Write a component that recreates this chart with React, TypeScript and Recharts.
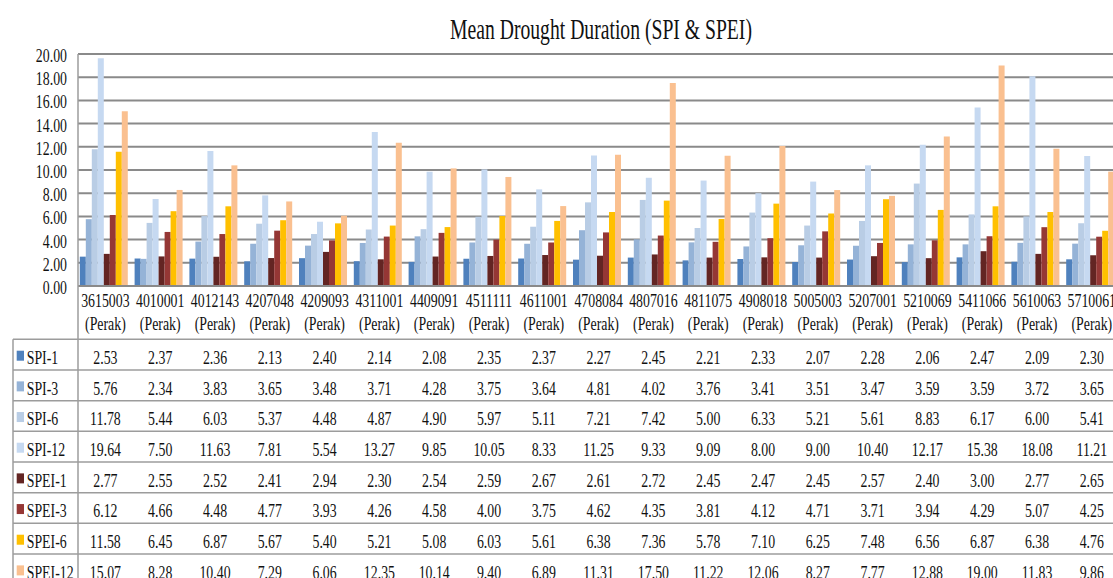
import React from "react";
import { BarChart, Bar, XAxis, YAxis, CartesianGrid } from "recharts";

// Station codes (all in Perak)
const stations = [
  "3615003", "4010001", "4012143", "4207048", "4209093", "4311001", "4409091",
  "4511111", "4611001", "4708084", "4807016", "4811075", "4908018", "5005003",
  "5207001", "5210069", "5411066", "5610063", "5710061",
];
const stateLabel = "(Perak)";

// Mean drought duration per index
const spi1 = [2.53, 2.37, 2.36, 2.13, 2.40, 2.14, 2.08, 2.35, 2.37, 2.27, 2.45, 2.21, 2.33, 2.07, 2.28, 2.06, 2.47, 2.09, 2.30];
const spi3 = [5.76, 2.34, 3.83, 3.65, 3.48, 3.71, 4.28, 3.75, 3.64, 4.81, 4.02, 3.76, 3.41, 3.51, 3.47, 3.59, 3.59, 3.72, 3.65];
const spi6 = [11.78, 5.44, 6.03, 5.37, 4.48, 4.87, 4.90, 5.97, 5.11, 7.21, 7.42, 5.00, 6.33, 5.21, 5.61, 8.83, 6.17, 6.00, 5.41];
const spi12 = [19.64, 7.50, 11.63, 7.81, 5.54, 13.27, 9.85, 10.05, 8.33, 11.25, 9.33, 9.09, 8.00, 9.00, 10.40, 12.17, 15.38, 18.08, 11.21];
const spei1 = [2.77, 2.55, 2.52, 2.41, 2.94, 2.30, 2.54, 2.59, 2.67, 2.61, 2.72, 2.45, 2.47, 2.45, 2.57, 2.40, 3.00, 2.77, 2.65];
const spei3 = [6.12, 4.66, 4.48, 4.77, 3.93, 4.26, 4.58, 4.00, 3.75, 4.62, 4.35, 3.81, 4.12, 4.71, 3.71, 3.94, 4.29, 5.07, 4.25];
const spei6 = [11.58, 6.45, 6.87, 5.67, 5.40, 5.21, 5.08, 6.03, 5.61, 6.38, 7.36, 5.78, 7.10, 6.25, 7.48, 6.56, 6.87, 6.38, 4.76];
const spei12 = [15.07, 8.28, 10.40, 7.29, 6.06, 12.35, 10.14, 9.40, 6.89, 11.31, 17.50, 11.22, 12.06, 8.27, 7.77, 12.88, 19.00, 11.83, 9.86];

const yTicks = [0, 2, 4, 6, 8, 10, 12, 14, 16, 18, 20];
const title = "Mean Drought Duration (SPI & SPEI)";

const series = [
  { key: "SPI-1", values: spi1, color: "#4F81BD" },
  { key: "SPI-3", values: spi3, color: "#95B3D7" },
  { key: "SPI-6", values: spi6, color: "#B9CDE5" },
  { key: "SPI-12", values: spi12, color: "#C6D9F1" },
  { key: "SPEI-1", values: spei1, color: "#632523" },
  { key: "SPEI-3", values: spei3, color: "#953735" },
  { key: "SPEI-6", values: spei6, color: "#FFC000" },
  { key: "SPEI-12", values: spei12, color: "#FAC090" },
];

const rows = stations.map((s, i) => {
  const row: Record<string, string | number> = { station: s };
  series.forEach((ser) => {
    row[ser.key] = ser.values[i];
  });
  return row;
});

// Layout
const VIEW_W = 1113;
const VIEW_H = 578;
const PLOT_LEFT = 78;
const PLOT_TOP = 54;
const PLOT_BOTTOM = 286;
const BAND = 54.8;
const CHART_W = 1130;
const PLOT_RIGHT = PLOT_LEFT + BAND * stations.length;
const TABLE_TOP = 339.3;
const ROW_H = 30.67;
const ROW_BASE = 24.6;

const FONT = "'Liberation Serif', 'Times New Roman', serif";
const SX = 0.71;
const TEXT = "#111";
const GRID = "#8a8a8a";
const RULE = "#9c9c9c";

const YTick = (props: any) => {
  const { y, payload } = props;
  return (
    <text
      transform={`translate(${PLOT_LEFT - 11},${y + 8}) scale(${SX},1)`}
      textAnchor="end"
      fontFamily={FONT}
      fontSize={19.5}
      fill={TEXT}
    >
      {Number(payload.value).toFixed(2)}
    </text>
  );
};

// Category label plus the column of values in the data table below it
const StationTick = (props: any) => {
  const { x, payload } = props;
  const i = payload.index ?? props.index;
  const t = (yy: number, s: string, k: string) => (
    <text
      key={k}
      transform={`translate(${x},${yy}) scale(${SX},1)`}
      textAnchor="middle"
      fontFamily={FONT}
      fontSize={19.5}
      fill={TEXT}
    >
      {s}
    </text>
  );
  return (
    <g>
      {t(307, String(payload.value), "c")}
      {t(330, stateLabel, "p")}
      {series.map((ser, r) =>
        t(TABLE_TOP + r * ROW_H + ROW_BASE, ser.values[i].toFixed(2), ser.key)
      )}
    </g>
  );
};

export default function App() {
  return (
    <div
      style={{
        position: "fixed",
        left: 0,
        top: 0,
        width: VIEW_W,
        height: VIEW_H,
        overflow: "hidden",
        background: "#fff",
      }}
    >
      <BarChart
        width={CHART_W}
        height={VIEW_H}
        data={rows}
        margin={{ top: PLOT_TOP, right: CHART_W - PLOT_RIGHT, bottom: 0, left: 0 }}
        barCategoryGap={1.8}
        barGap={0}
      >
        <CartesianGrid vertical={false} stroke={GRID} strokeWidth={2} />
        <XAxis
          dataKey="station"
          interval={0}
          height={VIEW_H - PLOT_BOTTOM}
          tickLine={false}
          axisLine={{ stroke: GRID, strokeWidth: 2 }}
          tick={(p: any) => <StationTick {...p} />}
        />
        <YAxis
          width={PLOT_LEFT}
          domain={[0, 20]}
          ticks={yTicks}
          interval={0}
          tickLine={false}
          axisLine={{ stroke: RULE, strokeWidth: 1.5 }}
          tick={(p: any) => <YTick {...p} />}
        />
        {series.map((ser) => (
          <Bar key={ser.key} dataKey={ser.key} fill={ser.color} isAnimationActive={false} />
        ))}
      </BarChart>
      <svg
        width={VIEW_W}
        height={VIEW_H}
        style={{ position: "absolute", left: 0, top: 0, pointerEvents: "none" }}
      >
        <text
          transform={`translate(601,39) scale(0.69,1)`}
          textAnchor="middle"
          fontFamily={FONT}
          fontSize={28.5}
          fill={TEXT}
        >
          {title}
        </text>
        <line x1={PLOT_LEFT} x2={PLOT_LEFT} y1={PLOT_BOTTOM} y2={VIEW_H} stroke={RULE} strokeWidth={1.5} />
        <line x1={13} x2={13} y1={TABLE_TOP} y2={VIEW_H} stroke={RULE} strokeWidth={1.5} />
        {series.map((ser, r) => (
          <line
            key={"l" + ser.key}
            x1={13}
            x2={VIEW_W}
            y1={TABLE_TOP + r * ROW_H}
            y2={TABLE_TOP + r * ROW_H}
            stroke={RULE}
            strokeWidth={1.5}
          />
        ))}
        {series.map((ser, r) => {
          const top = TABLE_TOP + r * ROW_H;
          return (
            <g key={"h" + ser.key}>
              <rect x={16.7} y={top + 11.4} width={7.3} height={10} fill={ser.color} />
              <text
                transform={`translate(26.7,${top + ROW_BASE}) scale(${SX},1)`}
                fontFamily={FONT}
                fontSize={19.5}
                fill={TEXT}
              >
                {ser.key}
              </text>
            </g>
          );
        })}
      </svg>
    </div>
  );
}
